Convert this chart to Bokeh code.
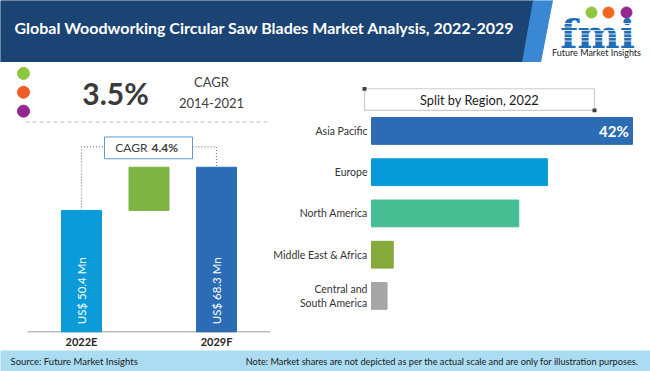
import math
from bokeh.plotting import figure
from bokeh.models import Range1d, FixedTicker, Label, BoxAnnotation
from bokeh.layouts import column, row
from bokeh.core.properties import value
from bokeh.embed import file_html
from bokeh.resources import INLINE

# ---------------- data ----------------
title_text = "Global Woodworking Circular Saw Blades Market Analysis, 2022-2029"
hist_cagr = "3.5%"
hist_label = "CAGR"
hist_period = "2014-2021"
fc_cagr = "4.4%"
years = ["2022E", "2029F"]
market_size = [50.4, 68.3]          # US$ Mn
regions = ["Asia Pacific", "Europe", "North America", "Middle East & Africa",
           "Central and\nSouth America"]
region_share = [42, 28.3, 23.7, 3.5, 2.5]   # %
region_colors = ["#2b6cb4", "#079ad8", "#47bd94", "#86a93c", "#a6a6a6"]
split_title = "Split by Region, 2022"
source_text = "Source: Future Market Insights"
note_text = ("Note: Market shares are not depicted as per the actual scale and are "
             "only for illustration purposes.")
brand_name = "Future Market Insights"

FONT = "Lato"


def base_fig(w, h, xr, yr, **kw):
    p = figure(width=w, height=h, x_range=xr, y_range=yr, output_backend="svg",
               toolbar_location=None, min_border=0, **kw)
    p.outline_line_color = None
    p.grid.visible = False
    p.border_fill_color = "white"
    p.background_fill_color = "white"
    return p


# ---------------- header (page y 0..62) ----------------
hdr = base_fig(650, 62, Range1d(0, 650), Range1d(62, 0))
hdr.axis.visible = False
hdr.patch([0, 533, 522, 0], [0, 0, 62, 62], color="#1b4373")
hdr.patch([533, 552, 540, 522], [0, 0, 62, 62], color="#3a88d4")
hdr.text(x=[14], y=[27], text=[title_text], text_color="white",
         text_font=value(FONT), text_font_style="bold", text_font_size="16px",
         text_align="left", text_baseline="middle")
# logo
hdr.scatter(x=[591, 608, 626], y=[12, 12, 12], size=11,
            color=["#8dc63f", "#f26522", "#92278f"])
hdr.text(x=[597], y=[32.5], text=["fmi"], text_color="#1f6db5",
         text_font=value("DejaVu Serif"), text_font_style="bold",
         text_font_size="40px", text_align="center", text_baseline="middle")
stripe_y = [23 + 3.5 * i for i in range(6)]
hdr.segment(x0=[552] * len(stripe_y), x1=[650] * len(stripe_y), y0=stripe_y, y1=stripe_y,
            line_color="white", line_width=0.8)
hdr.text(x=[596], y=[51.5], text=[brand_name], text_color="#222222",
         text_font=value(FONT), text_font_size="9px", text_align="center",
         text_baseline="middle")

# ---------------- left panel (page x 0..270, y 62..350) ----------------
LX0, LDX, LY0, LDY = 81.0, 67.5, 333.5, 2.43
FRAME_BOTTOM = 334


def lx(px):
    return (px - LX0) / LDX


def ly(py):
    return (LY0 - py) / LDY


left = base_fig(270, 288, Range1d(lx(0), lx(270)), Range1d(ly(FRAME_BOTTOM), ly(62)),
                min_border_bottom=350 - FRAME_BOTTOM)
left.yaxis.visible = False
xa = left.xaxis[0]
xa.ticker = FixedTicker(ticks=[0, 2])
xa.major_label_overrides = {0: years[0], 2: years[1]}
xa.major_label_text_font = FONT
xa.major_label_text_font_style = "bold"
xa.major_label_text_font_size = "11px"
xa.major_label_text_color = "#262626"
xa.axis_line_color = None
xa.major_tick_line_color = None
xa.minor_tick_line_color = None
xa.major_tick_out = 0
xa.major_tick_in = 0
xa.minor_tick_out = 0
xa.axis_label_standoff = 0
xa.major_label_standoff = 2

# baseline
left.segment(x0=[lx(27)], x1=[lx(270)], y0=[0], y1=[0], line_color="#a6a6a6", line_width=1.5)

# waterfall bars
left.vbar(x=[0, 1, 2], bottom=[0, market_size[0], 0],
          top=[market_size[0], market_size[1], market_size[1]],
          width=40 / LDX, color=["#0a9bd8", "#7db443", "#2b6cb4"])
left.text(x=[0, 2], y=[ly(292)] * 2, text=[f"US$ {v} Mn" for v in market_size],
          angle=math.pi / 2, text_align="center", text_baseline="middle",
          text_color="white", text_font=value(FONT), text_font_size="11.5px")

# CAGR bracket
left.line(x=[0, 0, lx(104)], y=[market_size[0], ly(147), ly(147)],
          line_color="#808080", line_dash="1 2", line_width=1.2)
left.line(x=[lx(192), 2, 2], y=[ly(147), ly(147), market_size[1]],
          line_color="#808080", line_dash="1 2", line_width=1.2)
left.quad(left=[lx(104)], right=[lx(192)], top=[ly(137)], bottom=[ly(159)],
          fill_color="white", line_color="#5b9bd5", line_width=1)
left.text(x=[lx(147)], y=[ly(148)], text=["CAGR"], text_align="right",
          text_baseline="middle", text_color="#404040", text_font=value(FONT),
          text_font_size="12px")
left.text(x=[lx(151)], y=[ly(148)], text=[fc_cagr], text_align="left",
          text_baseline="middle", text_color="#404040", text_font=value(FONT),
          text_font_style="bold", text_font_size="12px")

# historical CAGR block
left.scatter(x=[lx(23)] * 3, y=[ly(73), ly(92), ly(111)], size=12,
             color=["#8dc63f", "#f15a29", "#92278f"])
left.text(x=[lx(115)], y=[ly(93)], text=[hist_cagr], text_align="center",
          text_baseline="middle", text_color="#3a3a3a", text_font=value(FONT),
          text_font_style="bold", text_font_size="30px")
left.text(x=[lx(211), lx(211)], y=[ly(82), ly(103)], text=[hist_label, hist_period],
          text_align="center", text_baseline="middle", text_color="#404040",
          text_font=value(FONT), text_font_size="13px")
left.segment(x0=[lx(25)], x1=[lx(270)], y0=[ly(122)], y1=[ly(122)],
             line_color="#bfbfbf", line_dash="4 3", line_width=1)

# ---------------- right panel (page x 270..650, y 62..350) ----------------
RX0, RDX, RY0, RDY = 371.0, 261.0 / 42.0, 135.0, 44.0


def rx(px):
    return (px - RX0) / RDX


def ry(py):
    return (py - RY0) / RDY


right = base_fig(380, 288, Range1d(rx(360), rx(650)), Range1d(ry(350), ry(62)),
                 min_border_left=90)
right.xaxis.visible = False
ya = right.yaxis[0]
ya.ticker = FixedTicker(ticks=list(range(len(regions))))
ya.major_label_overrides = {i: r for i, r in enumerate(regions)}
ya.major_label_text_font = FONT
ya.major_label_text_font_size = "10.5px"
ya.major_label_text_color = "#333333"
ya.axis_line_color = None
ya.major_tick_line_color = None
ya.minor_tick_line_color = None
ya.major_tick_out = 0
ya.major_label_standoff = -7

right.hbar(y=list(range(len(regions))), left=0, right=region_share, height=0.65,
           color=region_colors)
right.text(x=[region_share[0] - 0.6], y=[0], text=[f"{region_share[0]}%"],
           text_align="right", text_baseline="middle", text_color="white",
           text_font=value(FONT), text_font_style="bold", text_font_size="15px")

right.add_layout(BoxAnnotation(left=rx(364), right=rx(594), top=ry(90), bottom=ry(113),
                               fill_color="white", fill_alpha=1.0,
                               line_color="#595959", line_width=1.2))
right.add_layout(BoxAnnotation(left=rx(362), right=rx(366), top=ry(88), bottom=ry(92),
                               fill_color="#404040", fill_alpha=1.0, line_color=None))
right.add_layout(BoxAnnotation(left=rx(592), right=rx(596), top=ry(111), bottom=ry(115),
                               fill_color="#404040", fill_alpha=1.0, line_color=None))
right.add_layout(Label(x=rx(479), y=ry(101.5), text=split_title, text_align="center",
                       text_baseline="middle", text_font=FONT, text_font_size="12.8px",
                       text_color="#1a1a1a"))

# ---------------- footer (page y 350..371) ----------------
ftr = base_fig(650, 21, Range1d(0, 650), Range1d(371, 350))
ftr.axis.visible = False
ftr.background_fill_color = "#abdcf1"
ftr.border_fill_color = "#abdcf1"
ftr.text(x=[10], y=[360.5], text=[source_text], text_align="left", text_baseline="middle",
         text_color="#1a1a1a", text_font=value(FONT), text_font_size="9.5px")
ftr.text(x=[638], y=[360.5], text=[note_text], text_align="right", text_baseline="middle",
         text_color="#1a1a1a", text_font=value(FONT), text_font_size="9.2px")

layout = column(hdr, row(left, right), ftr)
open("out.html", "w").write(file_html(layout, INLINE))
